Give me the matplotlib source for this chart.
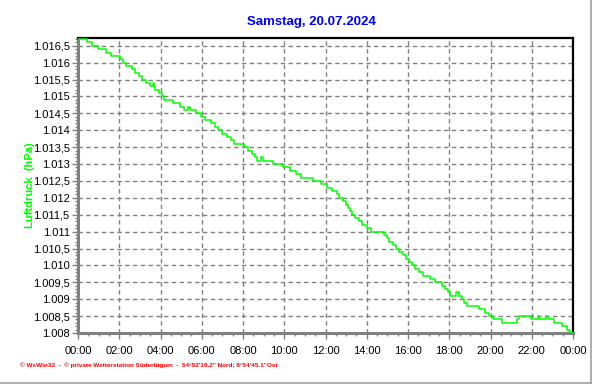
import matplotlib
matplotlib.use("Agg")
import matplotlib.pyplot as plt
from matplotlib.ticker import MultipleLocator, FuncFormatter
from matplotlib.lines import Line2D

# --- data (hours since midnight, pressure hPa; step line) ---
hours = [0.00, 0.45, 0.70, 0.95, 1.35, 1.60, 2.05, 2.20, 2.35, 2.60, 2.75, 2.95,
         3.10, 3.30, 3.50, 3.62, 3.70, 3.75, 3.95, 4.05, 4.15, 4.60, 4.95, 5.15,
         5.35, 5.42, 5.70, 5.95, 6.15, 6.45, 6.65, 6.80, 7.00, 7.20, 7.40, 7.55,
         8.05, 8.25, 8.45, 8.60, 8.70, 8.85, 8.95, 9.45, 9.95, 10.30, 10.55, 10.80,
         11.40, 11.80, 12.05, 12.30, 12.55, 12.65, 12.85, 13.00, 13.10, 13.20, 13.30,
         13.45, 13.60, 13.75, 14.00, 14.20, 14.85, 15.00, 15.10, 15.25, 15.40, 15.55,
         15.75, 15.90, 16.05, 16.20, 16.35, 16.55, 16.75, 17.05, 17.30, 17.65, 17.80,
         17.95, 18.05, 18.35, 18.45, 18.60, 18.70, 18.85, 19.45, 19.75, 19.95, 20.10,
         20.55, 21.30, 21.40, 21.95, 22.30, 22.35, 22.70, 22.80, 23.10, 23.45, 23.70,
         23.85, 24.00]
pressure = [1016.7, 1016.6, 1016.5, 1016.4, 1016.3, 1016.2, 1016.1, 1016.0, 1015.9,
            1015.8, 1015.7, 1015.6, 1015.5, 1015.4, 1015.3, 1015.4, 1015.3, 1015.2,
            1015.1, 1015.0, 1014.9, 1014.8, 1014.7, 1014.6, 1014.7, 1014.6, 1014.5,
            1014.4, 1014.3, 1014.2, 1014.1, 1014.0, 1013.9, 1013.8, 1013.7, 1013.6,
            1013.5, 1013.4, 1013.3, 1013.2, 1013.1, 1013.2, 1013.1, 1013.0, 1012.9,
            1012.8, 1012.7, 1012.6, 1012.5, 1012.4, 1012.3, 1012.2, 1012.1, 1012.0,
            1011.9, 1011.8, 1011.7, 1011.6, 1011.5, 1011.4, 1011.3, 1011.2, 1011.1,
            1011.0, 1010.9, 1010.8, 1010.7, 1010.6, 1010.5, 1010.4, 1010.3, 1010.2,
            1010.1, 1010.0, 1009.9, 1009.8, 1009.7, 1009.6, 1009.5, 1009.4, 1009.3,
            1009.2, 1009.1, 1009.2, 1009.1, 1009.0, 1008.9, 1008.8, 1008.7, 1008.6,
            1008.5, 1008.4, 1008.3, 1008.4, 1008.5, 1008.4, 1008.5, 1008.4, 1008.5,
            1008.4, 1008.3, 1008.2, 1008.1, 1008.0, 1008.0]

xtick_labels = ["00:00", "02:00", "04:00", "06:00", "08:00", "10:00", "12:00",
                "14:00", "16:00", "18:00", "20:00", "22:00", "00:00"]
title = "Samstag, 20.07.2024"
ylabel = "Luftdruck  (hPa)"
footer = "\u00a9 WsWin32  -  \u00a9 private Wetterstation S\u00fcderl\u00fcgum  -  54\u00b052'19.2\" Nord; 8\u00b054'45.1\"Ost"

plt.rcParams['font.family'] = ['Liberation Sans', 'DejaVu Sans']

fig = plt.figure(figsize=(5.92, 3.84), dpi=100)
fig.patch.set_facecolor("white")
ax = fig.add_axes([78/592, 1-333/384, (573-78)/592, (333-38)/384])

ax.plot(hours, pressure, drawstyle="steps-post", color="#00FF00", lw=1.1, zorder=3)

ax.set_xlim(0, 24)
ax.set_ylim(1008.0, 1016.73)

ax.xaxis.set_major_locator(MultipleLocator(2))
ax.xaxis.set_minor_locator(MultipleLocator(0.5))
ax.set_xticks(list(range(0, 25, 2)))
ax.set_xticklabels(xtick_labels)

ax.yaxis.set_major_locator(MultipleLocator(0.5))
ax.yaxis.set_minor_locator(MultipleLocator(0.1))

def fmt(v, pos):
    s = f"{v:.1f}"
    ip, dp = s.split(".")
    ip = ip[0] + "." + ip[1:]
    return ip if dp == "0" else ip + "," + dp
ax.yaxis.set_major_formatter(FuncFormatter(fmt))

ax.grid(True, which="major", color="#808080", linestyle=(0, (3.2, 2.4)), lw=1.0)
ax.tick_params(axis="both", which="major", labelsize=8, color="#808080",
               length=4, width=1, direction="out")
ax.tick_params(axis="both", which="minor", color="#808080", length=2.5, width=1,
               direction="out")
ax.tick_params(axis="x", pad=5)
ax.tick_params(axis="y", pad=2)

for side in ("left", "bottom"):
    ax.spines[side].set_color("#808080")
    ax.spines[side].set_linewidth(2.2)
for side in ("top", "right"):
    ax.spines[side].set_color("black")
    ax.spines[side].set_linewidth(1.6)

fig.text(311/592, 1-22/384, title, color="#0000FF", fontsize=9.5,
         fontweight="bold", ha="center", va="center")
fig.text(30/592, 1-185/384, ylabel, color="#00FF00", fontsize=8,
         fontweight="bold", rotation=90, ha="center", va="center")
fig.text(20/592, 1-365/384, footer, color="#FF0000", fontsize=4.6,
         fontweight="bold", ha="left", va="center")

# figure frame (right and bottom)
fig.add_artist(Line2D([590.5/592, 590.5/592], [0, 1], transform=fig.transFigure,
                      color="#A0A0A0", lw=1.2))
fig.add_artist(Line2D([0, 591/592], [1.0/384, 1.0/384], transform=fig.transFigure,
                      color="#A0A0A0", lw=1.2))

fig.savefig("out.png", dpi=100, facecolor="white")
